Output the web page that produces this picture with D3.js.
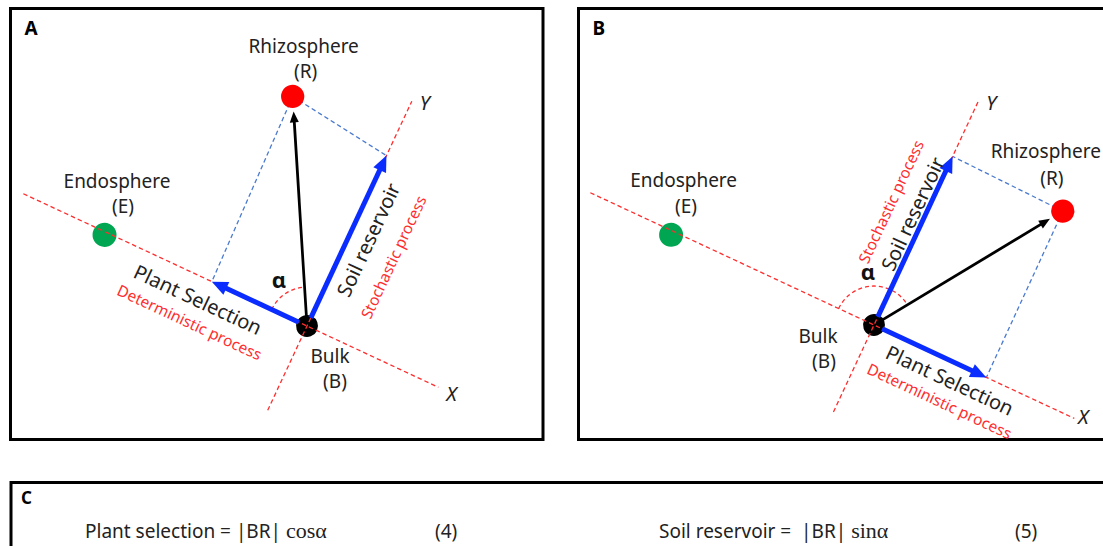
<!DOCTYPE html>
<html>
<head>
<meta charset="utf-8">
<script src="https://cdn.jsdelivr.net/npm/d3@7/dist/d3.min.js"></script>
<style>
  body { margin: 0; background: #fff; }
  text { font-family: "Noto Sans", "DejaVu Sans", sans-serif; }
</style>
</head>
<body>
<svg id="fig" width="1103" height="546"></svg>
<script>

// samples, in the plant-selection (X) / soil-reservoir (Y) frame, Bulk at origin
var sampleCodes = ["B", "R", "E"]
var sampleNames = ["Bulk", "Rhizosphere", "Endosphere"]
var sampleColors = ["#000000", "#ff0000", "#00a651"]
var sampleRadius = [11, 11.6, 12]

var panelAX = [0, -1.10, -2.22]
var panelAY = [0, 2.02, -0.03]
var panelBX = [0, 1.23, -2.22]
var panelBY = [0, 1.83, -0.04]

// length of the two components of BR (arrow tips)
var plantSelection = [-1.05, 1.24]
var soilReservoir = [1.88, 1.86]

// extent of the dashed X / Y axes
var axisXRange = [[-3.13, 1.45], [-3.13, 2.21]]
var axisYRange = [[-0.93, 2.48], [-0.96, 2.47]]

var formulaText = ["Plant selection = |BR| ", "Soil reservoir =  |BR| "]
var formulaFunc = ["cosα", "sinα"]
var formulaNum = ["(4)", "(5)"]

var axisAngle = 25

var panels = [
  { id: "A", xs: panelAX, ys: panelAY, frame: [10.5, 8.5, 532.5, 431], origin: [307, 326],
    nameOff: [[23, 37], [11, -43], [12.5, -47]], codeOff: [[28, 62], [13, -18], [18.5, -22]],
    plantTxt: [-1.10, -0.22], detTxt: [-1.08, -0.46], soilTxt: [0.19, 1.04], stoTxt: [0.49, 0.99],
    alpha: [279, 288], xLab: [13, 6], yLab: [13, 1] },
  { id: "B", xs: panelBX, ys: panelBY, frame: [578.5, 8.5, 600, 431], origin: [874, 325],
    nameOff: [[-56, 18], [-17, -53], [12.5, -48]], codeOff: [[-50, 43], [-11, -26], [15, -22]],
    plantTxt: [0.92, -0.18], detTxt: [0.915, -0.41], soilTxt: [-0.12, 1.17], stoTxt: [-0.37, 1.19],
    alpha: [868, 280], xLab: [9, -2], yLab: [13, 1] }
]

var svg = d3.select("#fig")
svg.append("rect").attr("width", 1103).attr("height", 546).attr("fill", "#fff")

var x = d3.scaleLinear().domain([0, 1]).range([0, 100])
var y = d3.scaleLinear().domain([0, 1]).range([0, -100])

var rad = axisAngle * Math.PI / 180
var toScreen = function(p, u, v){
  var px = x(u), py = y(v)
  return [p.origin[0] + px*Math.cos(rad) - py*Math.sin(rad),
          p.origin[1] + px*Math.sin(rad) + py*Math.cos(rad)]
}

var arrow = function(g, x1, y1, x2, y2, color, w, len, half, startGap){
  var dx = x2 - x1, dy = y2 - y1
  var L = Math.sqrt(dx*dx + dy*dy)
  var ux = dx/L, uy = dy/L
  g.append("line")
    .attr("x1", x1 + ux*startGap).attr("y1", y1 + uy*startGap)
    .attr("x2", x2 - ux*len*0.8).attr("y2", y2 - uy*len*0.8)
    .attr("stroke", color).attr("stroke-width", w)
  var bx = x2 - ux*len, by = y2 - uy*len
  g.append("path")
    .attr("d", "M" + x2 + "," + y2 + "L" + (bx - uy*half) + "," + (by + ux*half) +
               "L" + (bx + uy*half) + "," + (by - ux*half) + "Z")
    .attr("fill", color)
}

var redDash = "#ff2e2e", blueDash = "#4a7ad0", blue = "#0a2cff"

panels.forEach(function(p, pi){

  svg.append("rect")
    .attr("x", p.frame[0]).attr("y", p.frame[1])
    .attr("width", p.frame[2]).attr("height", p.frame[3])
    .attr("fill", "none").attr("stroke", "#000").attr("stroke-width", 3)

  svg.append("text").attr("x", p.frame[0] + 14).attr("y", 35)
    .attr("font-size", 19).attr("font-weight", "bold").attr("fill", "#000").text(p.id)

  var g = svg.append("g")
    .attr("transform", "translate(" + p.origin[0] + "," + p.origin[1] + ") rotate(" + axisAngle + ")")

  var rU = p.xs[1], rV = p.ys[1]

  // projection lines from R onto the axes
  g.append("line")
    .attr("x1", x(rU)).attr("y1", y(rV)).attr("x2", x(plantSelection[pi])).attr("y2", y(0))
    .attr("stroke", blueDash).attr("stroke-width", 1.3).attr("stroke-dasharray", "4.5,3")
  g.append("line")
    .attr("x1", x(rU)).attr("y1", y(rV)).attr("x2", x(0)).attr("y2", y(soilReservoir[pi]))
    .attr("stroke", blueDash).attr("stroke-width", 1.3).attr("stroke-dasharray", "4.5,3")

  g.selectAll("circle.sample")
      .data(sampleCodes)
    .enter().append("circle")
      .attr("class", "sample")
      .attr("cx", function(d, i){ return x(p.xs[i]) })
      .attr("cy", function(d, i){ return y(p.ys[i]) })
      .attr("r", function(d, i){ return sampleRadius[i] })
      .attr("fill", function(d, i){ return sampleColors[i] })

  // dashed X and Y axes
  g.append("line")
    .attr("x1", x(axisXRange[pi][0])).attr("y1", y(0)).attr("x2", x(axisXRange[pi][1])).attr("y2", y(0))
    .attr("stroke", redDash).attr("stroke-width", 1.3).attr("stroke-dasharray", "4.5,3")
  g.append("line")
    .attr("x1", x(0)).attr("y1", y(axisYRange[pi][0])).attr("x2", x(0)).attr("y2", y(axisYRange[pi][1]))
    .attr("stroke", redDash).attr("stroke-width", 1.3).attr("stroke-dasharray", "4.5,3")

  // angle alpha between -X and BR
  var phi = Math.atan2(rV, rU)
  var arcPath = d3.path()
  arcPath.arc(0, 0, 39, Math.PI, 2*Math.PI - phi, false)
  g.append("path").attr("d", arcPath.toString())
    .attr("fill", "none").attr("stroke", redDash).attr("stroke-width", 1.3).attr("stroke-dasharray", "4,3")

  // component arrows and BR
  arrow(g, x(0), y(0), x(plantSelection[pi]), y(0), blue, 5, 16, 7, 9)
  arrow(g, x(0), y(0), x(0), y(soilReservoir[pi]), blue, 5, 16, 7, 9)
  var rl = Math.sqrt(x(rU)*x(rU) + y(rV)*y(rV))
  var shrink = (rl - 15) / rl
  arrow(g, x(0), y(0), x(rU)*shrink, y(rV)*shrink, "#000", 2.8, 11, 4.5, 6)

  // rotated labels
  g.append("text").attr("x", x(p.plantTxt[0])).attr("y", y(p.plantTxt[1]))
    .attr("text-anchor", "middle").attr("dominant-baseline", "central")
    .attr("font-size", 20).attr("fill", "#222").text("Plant Selection")
  g.append("text").attr("x", x(p.detTxt[0])).attr("y", y(p.detTxt[1]))
    .attr("text-anchor", "middle").attr("dominant-baseline", "central")
    .attr("font-size", 15.5).attr("fill", redDash).text("Deterministic process")
  g.append("text")
    .attr("transform", "translate(" + x(p.soilTxt[0]) + "," + y(p.soilTxt[1]) + ") rotate(-90)")
    .attr("text-anchor", "middle").attr("dominant-baseline", "central")
    .attr("font-size", 20).attr("fill", "#222").text("Soil reservoir")
  g.append("text")
    .attr("transform", "translate(" + x(p.stoTxt[0]) + "," + y(p.stoTxt[1]) + ") rotate(-90)")
    .attr("text-anchor", "middle").attr("dominant-baseline", "central")
    .attr("font-size", 15.5).attr("fill", redDash).text("Stochastic process")

  // sample labels
  sampleCodes.forEach(function(code, i){
    var s = toScreen(p, p.xs[i], p.ys[i])
    svg.append("text").attr("x", s[0] + p.nameOff[i][0]).attr("y", s[1] + p.nameOff[i][1])
      .attr("text-anchor", "middle").attr("font-size", 19).attr("fill", "#222").text(sampleNames[i])
    svg.append("text").attr("x", s[0] + p.codeOff[i][0]).attr("y", s[1] + p.codeOff[i][1])
      .attr("text-anchor", "middle").attr("font-size", 19).attr("fill", "#222").text("(" + code + ")")
  })

  svg.append("text").attr("x", p.alpha[0]).attr("y", p.alpha[1])
    .attr("text-anchor", "middle").attr("font-family", "Liberation Serif, serif")
    .attr("font-weight", "bold").attr("font-size", 22).attr("fill", "#111").text("α")

  var xe = toScreen(p, axisXRange[pi][1], 0)
  svg.append("text").attr("x", xe[0] + p.xLab[0]).attr("y", xe[1] + p.xLab[1])
    .attr("text-anchor", "middle").attr("dominant-baseline", "central")
    .attr("font-style", "italic").attr("font-size", 20).attr("fill", "#222").text("X")
  var ye = toScreen(p, 0, axisYRange[pi][1])
  svg.append("text").attr("x", ye[0] + p.yLab[0]).attr("y", ye[1] + p.yLab[1])
    .attr("text-anchor", "middle").attr("dominant-baseline", "central")
    .attr("font-style", "italic").attr("font-size", 20).attr("fill", "#222").text("Y")
})

// panel C: formulas
svg.append("rect").attr("x", 11).attr("y", 482.5).attr("width", 1200).attr("height", 200)
  .attr("fill", "none").attr("stroke", "#000").attr("stroke-width", 3)
svg.append("text").attr("x", 21).attr("y", 504)
  .attr("font-size", 17).attr("font-weight", "bold").attr("fill", "#000").text("C")

var formulaX = [85, 659], numX = [435, 1015]
formulaText.forEach(function(t, i){
  var tx = svg.append("text").attr("x", formulaX[i]).attr("y", 538)
    .attr("font-size", 19).attr("fill", "#222").attr("xml:space", "preserve")
  tx.append("tspan").text(t)
  tx.append("tspan").attr("font-family", "Liberation Serif, serif").attr("font-size", 22).text(formulaFunc[i])
  svg.append("text").attr("x", numX[i]).attr("y", 538)
    .attr("font-size", 19).attr("fill", "#222").text(formulaNum[i])
})

</script>
</body>
</html>
